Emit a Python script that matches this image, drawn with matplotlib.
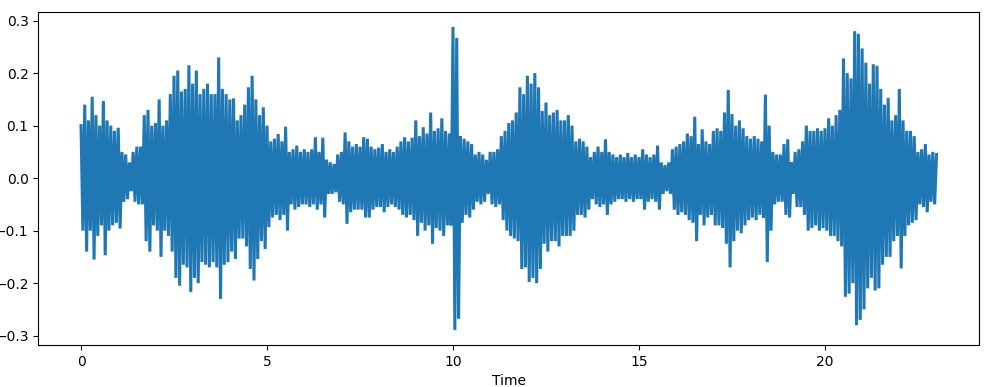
import matplotlib
matplotlib.use("Agg")
from matplotlib import pyplot as plt
import numpy as np

# waveform peaks, one pair per 0.1 s (t = 0.0 ... 23.0 s)
step = 0.1
upper_peaks = [
    0.10, 0.14, 0.11, 0.155, 0.12, 0.10, 0.147, 0.11, 0.10, 0.09,
    0.096, 0.05, 0.045, 0.03, 0.05, 0.06, 0.06, 0.12, 0.13, 0.10,
    0.105, 0.15, 0.10, 0.11, 0.16, 0.195, 0.205, 0.165, 0.17, 0.215,
    0.18, 0.205, 0.16, 0.17, 0.18, 0.16, 0.16, 0.23, 0.17, 0.16,
    0.15, 0.152, 0.11, 0.12, 0.14, 0.173, 0.195, 0.15, 0.12, 0.135,
    0.10, 0.07, 0.075, 0.084, 0.07, 0.098, 0.05, 0.055, 0.062, 0.05,
    0.055, 0.05, 0.055, 0.078, 0.05, 0.077, 0.035, 0.03, 0.027, 0.045,
    0.05, 0.087, 0.07, 0.06, 0.065, 0.06, 0.078, 0.075, 0.06, 0.055,
    0.058, 0.065, 0.05, 0.055, 0.05, 0.06, 0.07, 0.078, 0.07, 0.077,
    0.11, 0.08, 0.097, 0.085, 0.125, 0.09, 0.095, 0.114, 0.09, 0.085,
    0.288, 0.267, 0.08, 0.075, 0.07, 0.065, 0.045, 0.05, 0.045, 0.035,
    0.05, 0.05, 0.055, 0.08, 0.09, 0.105, 0.11, 0.125, 0.173, 0.16,
    0.195, 0.18, 0.20, 0.173, 0.128, 0.144, 0.12, 0.125, 0.13, 0.11,
    0.11, 0.12, 0.10, 0.07, 0.075, 0.07, 0.06, 0.04, 0.05, 0.06,
    0.05, 0.074, 0.05, 0.045, 0.04, 0.045, 0.04, 0.048, 0.04, 0.045,
    0.04, 0.055, 0.045, 0.04, 0.045, 0.062, 0.03, 0.025, 0.03, 0.055,
    0.06, 0.065, 0.07, 0.085, 0.08, 0.117, 0.065, 0.093, 0.07, 0.065,
    0.09, 0.095, 0.09, 0.125, 0.168, 0.122, 0.10, 0.11, 0.095, 0.08,
    0.075, 0.08, 0.075, 0.07, 0.159, 0.10, 0.05, 0.045, 0.045, 0.065,
    0.074, 0.03, 0.05, 0.055, 0.07, 0.10, 0.09, 0.09, 0.095, 0.09,
    0.095, 0.114, 0.10, 0.12, 0.13, 0.228, 0.20, 0.19, 0.28, 0.275,
    0.247, 0.22, 0.18, 0.217, 0.214, 0.17, 0.14, 0.153, 0.11, 0.12,
    0.17, 0.11, 0.09, 0.09, 0.08, 0.05, 0.055, 0.065, 0.045, 0.05,
    0.045,
]
lower_peaks = [
    -0.10, -0.14, -0.10, -0.155, -0.11, -0.09, -0.147, -0.10, -0.09, -0.085,
    -0.096, -0.045, -0.04, -0.025, -0.045, -0.05, -0.05, -0.12, -0.14, -0.09,
    -0.10, -0.15, -0.10, -0.11, -0.14, -0.19, -0.205, -0.165, -0.17, -0.217,
    -0.19, -0.20, -0.16, -0.165, -0.17, -0.16, -0.17, -0.23, -0.165, -0.16,
    -0.14, -0.154, -0.115, -0.115, -0.13, -0.173, -0.195, -0.154, -0.12, -0.135,
    -0.093, -0.075, -0.07, -0.08, -0.07, -0.10, -0.05, -0.06, -0.055, -0.05,
    -0.05, -0.055, -0.05, -0.06, -0.05, -0.075, -0.03, -0.03, -0.027, -0.045,
    -0.05, -0.087, -0.065, -0.06, -0.06, -0.06, -0.075, -0.075, -0.06, -0.055,
    -0.055, -0.065, -0.055, -0.05, -0.055, -0.06, -0.07, -0.075, -0.07, -0.08,
    -0.11, -0.085, -0.10, -0.09, -0.125, -0.095, -0.10, -0.11, -0.09, -0.09,
    -0.289, -0.268, -0.085, -0.07, -0.075, -0.06, -0.045, -0.05, -0.045, -0.03,
    -0.05, -0.055, -0.05, -0.08, -0.10, -0.11, -0.115, -0.12, -0.173, -0.17,
    -0.198, -0.19, -0.20, -0.173, -0.125, -0.14, -0.12, -0.12, -0.13, -0.11,
    -0.11, -0.11, -0.10, -0.07, -0.07, -0.075, -0.06, -0.04, -0.05, -0.055,
    -0.05, -0.07, -0.05, -0.045, -0.04, -0.04, -0.045, -0.04, -0.045, -0.04,
    -0.04, -0.06, -0.045, -0.04, -0.045, -0.06, -0.03, -0.025, -0.03, -0.06,
    -0.07, -0.065, -0.07, -0.08, -0.085, -0.12, -0.07, -0.09, -0.075, -0.07,
    -0.09, -0.09, -0.095, -0.125, -0.17, -0.12, -0.10, -0.105, -0.09, -0.08,
    -0.075, -0.08, -0.07, -0.075, -0.16, -0.10, -0.05, -0.045, -0.045, -0.07,
    -0.075, -0.03, -0.055, -0.055, -0.07, -0.10, -0.095, -0.09, -0.10, -0.095,
    -0.10, -0.11, -0.11, -0.12, -0.13, -0.226, -0.22, -0.20, -0.28, -0.27,
    -0.25, -0.21, -0.19, -0.214, -0.21, -0.165, -0.15, -0.15, -0.12, -0.11,
    -0.172, -0.11, -0.09, -0.085, -0.08, -0.05, -0.055, -0.065, -0.045, -0.05,
    -0.045,
]

upper = np.array(upper_peaks)
lower = np.array(lower_peaks)
t_upper = np.arange(len(upper)) * step
t_lower = t_upper + step / 2

# interleave the peaks so the line swings between them like the raw samples
times = np.column_stack([t_upper, t_lower]).ravel()[:-1]
samples = np.column_stack([upper, lower]).ravel()[:-1]

fig = plt.figure(figsize=(9.94, 3.87), dpi=100)
ax = fig.add_axes([0.0385, 0.1085, 0.9467, 0.861])
ax.plot(times, samples, color="#1f77b4", linewidth=2.2, solid_joinstyle="miter")
ax.set_xlabel("Time")

fig.savefig("out.png", dpi=100)
